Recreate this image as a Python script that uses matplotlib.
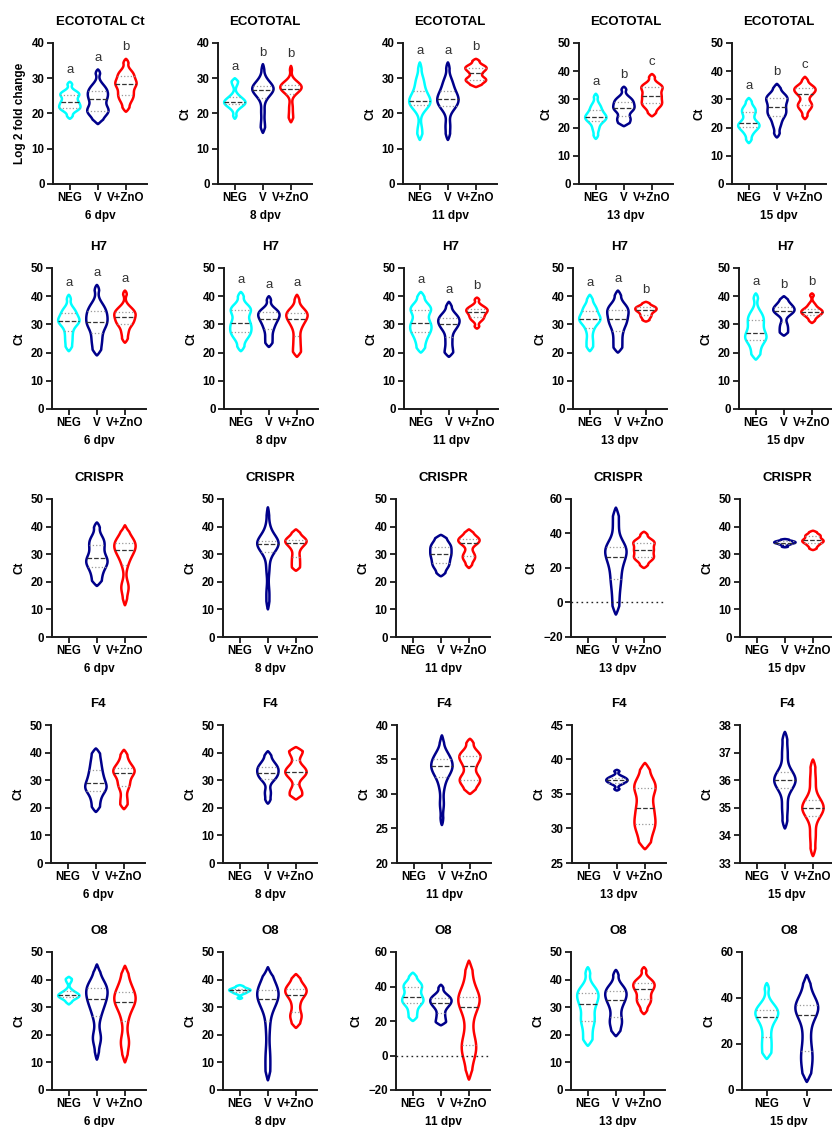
import numpy as np
import matplotlib
matplotlib.use('Agg')
import matplotlib.pyplot as plt
from matplotlib import mlab

plt.rcParams['font.family'] = ['Liberation Sans', 'DejaVu Sans']
plt.rcParams['font.weight'] = 'bold'
plt.rcParams['axes.labelweight'] = 'bold'

# --- dados (valores de Ct) ---
days = ['6 dpv', '8 dpv', '11 dpv', '13 dpv', '15 dpv']
groups = ['NEG', 'V', 'V+ZnO']
colors = ['#00FFFF', '#00008B', '#FF0000']

# ECOTOTAL
eco_neg = [[18.5, 21, 21.5, 22, 23, 23.5, 25, 25.5, 26, 29],
           [18.5, 21.5, 22.5, 23, 23, 23.5, 24, 25, 28.5, 30],
           [12.5, 15.5, 21, 22.5, 23, 23, 23.5, 24.5, 25.5, 26.5, 28.5, 30, 34.5],
           [16, 19.5, 22, 23, 23.5, 24, 25, 26.5, 28, 32],
           [14.5, 18, 20, 20.5, 21, 22, 24.5, 26, 27, 30.5]]
eco_v = [[17, 19.5, 20.5, 21, 22, 24, 24.5, 26, 26.5, 28, 32.5],
         [14.5, 17, 20.5, 24, 25.5, 26, 26.5, 27, 27, 27.5, 28, 28.5, 30, 34],
         [12.5, 16.5, 21, 22.5, 23, 23.5, 24.5, 25.5, 26, 28, 29.5, 34.5],
         [20.5, 22.5, 23.5, 26, 26.5, 27.5, 28.5, 29.5, 30.5, 34.5],
         [16.5, 21, 24, 25, 26.5, 28, 30, 30.5, 31.5, 35.5]]
eco_vz = [[20.5, 23.5, 25, 26, 28, 28.5, 29, 31, 31.5, 35.5],
          [17.5, 19.5, 22, 25.5, 26.5, 27, 27, 27.5, 27.5, 28, 28.5, 29, 33.5],
          [27.5, 29, 29.5, 30, 31.5, 32.5, 33, 33.5, 35.5],
          [24, 27, 28.5, 29, 31, 31.5, 33.5, 34.5, 35, 39],
          [23, 26.5, 28, 28.5, 31.5, 32.5, 33.5, 34, 34.5, 38]]
eco_letters = [['a', 'a', 'b'], ['a', 'b', 'b'], ['a', 'a', 'b'],
               ['a', 'b', 'c'], ['a', 'b', 'c']]

# H7
h7_neg = [[20.5, 24, 27, 30, 31, 31.5, 32, 34.5, 35, 40.5],
          [20.5, 25, 27, 28, 30, 31, 34, 35.5, 36, 41.5],
          [20, 24, 27, 28, 30, 31, 34.5, 35.5, 36.5, 41.5],
          [20.5, 24, 28, 31, 31.5, 32, 33, 35.5, 36, 40.5],
          [17.5, 21, 24.5, 25, 26, 28, 30.5, 32, 34, 41]]
h7_v = [[19, 23, 26, 29.5, 30, 32, 33.5, 35, 37, 44],
        [22, 25, 28, 30, 31.5, 32.5, 33.5, 34.5, 35, 40],
        [18.5, 21, 24.5, 28, 29.5, 30.5, 31.5, 32.5, 33.5, 38],
        [20, 23.5, 27, 30, 31, 33, 34.5, 35.5, 37, 42],
        [26, 28, 30, 33.5, 34.5, 35, 35.5, 36.5, 37.5, 40]]
h7_vz = [[23.5, 27, 30, 30.5, 32, 33, 34, 34.5, 36, 42],
         [18.5, 21.5, 25, 29, 31, 32.5, 33.5, 34, 35, 40.5],
         [28.5, 31.5, 32.5, 33.5, 34.5, 35, 35.5, 36.5, 39.5],
         [31, 32.5, 33.5, 34.5, 35, 35.5, 36, 36.5, 38],
         [30.5, 32.5, 33.5, 34, 34.5, 35, 35.5, 37, 41]]
h7_letters = [['a', 'a', 'a'], ['a', 'a', 'a'], ['a', 'a', 'b'],
              ['a', 'a', 'b'], ['a', 'b', 'b']]

# CRISPR (sem NEG)
crispr_v = [[18.5, 22, 25, 26.5, 28, 29, 32, 34, 36, 41.5],
            [10, 16, 24.5, 30, 32.5, 33, 33.5, 34, 34, 34.5, 35, 36, 40, 47],
            [22, 25, 26.5, 28, 29.5, 30.5, 32, 33, 34.5, 37],
            [-7, 2, 10, 15, 21, 25, 28, 31, 32, 33, 45, 55],
            [32.5, 33.5, 34, 34.2, 34.5, 34.8, 35.5]]
crispr_vz = [[11.5, 17.5, 18.5, 26, 29, 30.5, 31.5, 32.5, 33.5, 34, 35, 36, 40.5],
             [24, 26.5, 29, 32, 34, 34.5, 35, 36, 39],
             [25, 28, 29, 30.5, 33.5, 34.5, 35, 35.5, 36.5, 39],
             [20, 24.5, 26, 27.5, 30, 31, 33.5, 35, 36, 41],
             [31.5, 33, 34, 34.5, 35, 35.5, 36.5, 37, 38.5]]

# F4 (sem NEG)
f4_v = [[18.5, 22.5, 26, 27, 28, 30, 32, 34.5, 37.5, 41.5],
        [21.5, 25.5, 30, 31.5, 32, 33.5, 34.5, 35, 37, 40.5],
        [25.5, 28.5, 31, 32.5, 33, 33.5, 34, 34, 34.5, 35, 35.5, 36, 38.5],
        [35.5, 36.5, 36.8, 37, 37.2, 37.5, 38.5],
        [34.25, 35, 35.7, 36, 36, 36, 36.3, 37, 37.75]]
f4_vz = [[19.5, 23, 27.5, 29, 32, 33, 33.5, 34.5, 37, 41],
         [23, 25.5, 26, 31, 32.5, 33, 33.5, 35, 39.5, 40.5, 42],
         [30, 31.5, 32, 32.5, 34, 35, 35.5, 36, 38],
         [27, 29, 30.5, 31, 32.5, 33.5, 35.5, 36, 37, 39.5],
         [33.25, 34, 34.7, 35, 35, 35, 35.3, 36, 36.75]]

# O8
o8_neg = [[31, 33, 33.5, 34, 34.3, 34.5, 35, 36, 39.5, 41],
          [33, 35, 35.5, 36, 36.2, 36.5, 37, 38],
          [20, 25, 30, 31, 33, 35, 38.5, 40.5, 42, 48],
          [16, 20, 24.5, 26, 30, 32, 34, 35.5, 36.5, 44.5],
          [13.5, 18, 22, 27, 31, 32.5, 33.5, 35, 37, 46.5]]
o8_v = [[11, 18.5, 19, 26, 29, 31, 32.5, 33.5, 35, 36.5, 37, 38, 40, 45.5],
        [3.5, 9, 14, 22, 28, 31, 32.5, 33, 34, 35, 36, 36.5, 38, 40, 44.5],
        [17.5, 20, 23.5, 27.5, 29.5, 31, 32, 33.5, 35, 41],
        [19.5, 23.5, 25.5, 29, 32, 33, 35, 36, 37.5, 43.5],
        [3.5, 10, 14, 18, 24.5, 31, 34, 35.5, 36.5, 37.5, 42, 50]]
o8_vz = [[10, 16.5, 18, 25, 29, 31, 32, 33, 34, 35.5, 37, 40, 45],
         [22.5, 26, 27.5, 31, 34, 35, 36, 37, 38.5, 42],
         [-14, -2, 3, 6, 10, 20, 28, 30, 33, 34, 36, 45, 55],
         [27.5, 31, 32.5, 34, 36, 37, 38, 39, 40, 44.5],
         None]

none5 = [None] * 5
rows = [
    ('ECOTOTAL', eco_neg, eco_v, eco_vz, eco_letters),
    ('H7', h7_neg, h7_v, h7_vz, h7_letters),
    ('CRISPR', none5, crispr_v, crispr_vz, None),
    ('F4', none5, f4_v, f4_vz, None),
    ('O8', o8_neg, o8_v, o8_vz, None),
]

# limites do eixo y (min, max, passo)
ylims = [
    [(0, 40, 10), (0, 40, 10), (0, 40, 10), (0, 50, 10), (0, 50, 10)],
    [(0, 50, 10)] * 5,
    [(0, 50, 10), (0, 50, 10), (0, 50, 10), (-20, 60, 20), (0, 50, 10)],
    [(0, 50, 10), (0, 50, 10), (20, 40, 5), (25, 45, 5), (33, 38, 1)],
    [(0, 50, 10), (0, 50, 10), (-20, 60, 20), (0, 50, 10), (0, 60, 20)],
]

# --- layout em pixels ---
W, H = 832, 1127
tops = [43, 268, 499, 725, 952]
bottoms = [184, 409, 637, 863, 1090]
lefts = [[53, 218, 403, 579, 732],
         [52, 224, 404, 573, 739],
         [52, 223, 396, 571, 740],
         [51, 223, 397, 572, 740],
         [52, 223, 396, 571, 742]]
ax_w = 94
BW = 0.3
VW = 0.76


def draw_violin(ax, pos, vals, color, width):
    vals = np.asarray(vals, float)
    lo, hi = vals.min(), vals.max()
    coords = np.linspace(lo, hi, 300)
    dens = mlab.GaussianKDE(vals, BW).evaluate(coords)
    half = dens / dens.max() * width / 2
    # pontas afinadas como no GraphPad
    t = 0.08 * (hi - lo)
    half = half * (np.clip((coords - lo) / t, 0, 1) * np.clip((hi - coords) / t, 0, 1)) ** 0.75
    xs = np.concatenate([pos - half, (pos + half)[::-1]])
    ys = np.concatenate([coords, coords[::-1]])
    ax.fill(xs, ys, facecolor='none', edgecolor=color, lw=1.8, joinstyle='round')
    q1, med, q3 = np.percentile(vals, [25, 50, 75])
    for q, ls, c in [(q1, ':', '#999999'), (q3, ':', '#999999'), (med, '--', '#333333')]:
        h = np.interp(q, coords, half)
        ax.plot([pos - h, pos + h], [q, q], ls=ls, color=c, lw=0.9)


fig = plt.figure(figsize=(W / 100, H / 100), dpi=100)

for r, (name, neg, v, vz, letters) in enumerate(rows):
    for c in range(5):
        left = lefts[r][c]
        ax = fig.add_axes([left / W, 1 - bottoms[r] / H, ax_w / W, (bottoms[r] - tops[r]) / H])
        series = [neg[c], v[c], vz[c]]
        two = series[2] is None and series[0] is not None
        if two:
            labels = groups[:2]
            xlim = (-0.62, 1.73)
        else:
            labels = groups
            xlim = (-0.6, 2.75)
        for i, lab in enumerate(labels):
            data = series[i]
            if data is None:
                continue
            draw_violin(ax, i, data, colors[i], VW if not two else VW * 0.75)
            if letters is not None:
                ax.annotate(letters[c][i], xy=(i, max(data)), xytext=(0, 4),
                            textcoords='offset points', ha='center', va='bottom',
                            fontsize=9.5, fontweight='normal', color='#333333')
        y0, y1, step = ylims[r][c]
        if y0 < 0:
            ax.axhline(0, color='#222222', ls=(0, (1.2, 2.4)), lw=1)
        ax.set_ylim(y0, y1)
        ax.set_yticks(np.arange(y0, y1 + step / 2, step))
        ax.set_xlim(*xlim)
        ax.set_xticks(range(len(labels)))
        ax.set_xticklabels(labels)
        ax.spines[['top', 'right']].set_visible(False)
        for s in ['left', 'bottom']:
            ax.spines[s].set_linewidth(1.4)
            ax.spines[s].set_color('#1a1a1a')
        ax.tick_params(direction='out', length=4, width=1.3, labelsize=8.3,
                       color='#1a1a1a', pad=2)
        title = 'ECOTOTAL Ct' if (r == 0 and c == 0) else name
        ax.set_title(title, fontsize=9.5, fontweight='bold', pad=13)
        ax.set_ylabel('Log 2 fold change' if (r == 0 and c == 0) else 'Ct', fontsize=8.5)
        ax.set_xlabel(days[c], fontsize=8.5, labelpad=4)

fig.savefig('out.png', dpi=100)
